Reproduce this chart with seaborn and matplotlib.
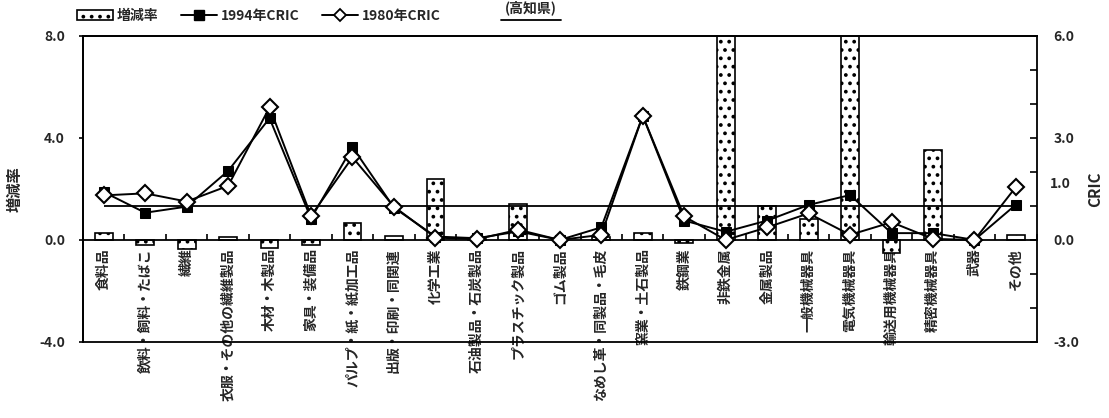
import numpy as np
import pandas as pd
import matplotlib
matplotlib.use("Agg")
import matplotlib.pyplot as plt
import matplotlib.transforms as mtransforms
import seaborn as sns
from matplotlib.patches import Patch
from matplotlib.lines import Line2D
from matplotlib.ticker import FixedLocator, MultipleLocator, FormatStrFormatter

# 業種 (industry categories)
industries = [
    "食料品", "飲料・飼料・たばこ", "繊維", "衣服・その他の繊維製品", "木材・木製品",
    "家具・装備品", "パルプ・紙・紙加工品", "出版・印刷・同関連", "化学工業",
    "石油製品・石炭製品", "プラスチック製品", "ゴム製品", "なめし革・同製品・毛皮",
    "窯業・土石製品", "鉄鋼業", "非鉄金属", "金属製品", "一般機械器具",
    "電気機械器具", "輸送用機械器具", "精密機械器具", "武器", "その他",
]

# 増減率 (left axis); 非鉄金属 and 電気機械器具 run off the top of the chart
rate = [0.26, -0.18, -0.34, 0.13, -0.31, -0.21, 0.65, 0.15, 2.38, 0.05, 1.41, 0.0,
        0.10, 0.27, -0.13, 10.0, 1.33, 0.84, 10.0, -0.50, 3.54, 0.0, 0.20]

# CRIC (right axis)
cric_1994 = [1.41, 0.80, 0.98, 2.03, 3.58, 0.63, 2.73, 0.95, 0.10, 0.05, 0.25, 0.0,
             0.37, 3.65, 0.57, 0.24, 0.57, 1.03, 1.32, 0.20, 0.20, 0.0, 1.04]
cric_1980 = [1.31, 1.37, 1.13, 1.59, 3.90, 0.71, 2.43, 0.98, 0.07, 0.02, 0.30, 0.0,
             0.15, 3.65, 0.69, 0.0, 0.37, 0.78, 0.15, 0.52, 0.03, 0.0, 1.56]
cric_base = 1.0

left_ticks = [-4.0, 0.0, 4.0, 8.0]
right_ticks = [-3.0, 0.0, 3.0, 6.0]

sns.set_theme(style="ticks")
plt.rcParams["font.family"] = ["Noto Sans CJK JP", "DejaVu Sans"]
plt.rcParams["hatch.linewidth"] = 1.5

df = pd.DataFrame({
    "industry": industries,
    "pos": np.arange(len(industries)),
    "rate": rate,
    "c94": cric_1994,
    "c80": cric_1980,
})

fig = plt.figure(figsize=(11.09, 4.18), dpi=100)
ax = fig.add_axes([0.0748, 0.182, 0.860, 0.732])

sns.barplot(data=df, x="industry", y="rate", ax=ax, color="white", saturation=1,
            edgecolor="black", linewidth=1.2, width=0.43, hatch="..", zorder=2)
ax.set_xlim(-0.5, len(industries) - 0.5)
ax.set_ylim(-4, 8)

ax2 = ax.twinx()
ax2.set_ylim(-3, 6)
ax2.hlines(cric_base, df["pos"].iloc[0], df["pos"].iloc[-1], color="black", lw=1.3, zorder=1)
sns.lineplot(data=df, x="pos", y="c94", ax=ax2, color="black", lw=1.4,
             marker="s", markersize=7.5, markeredgecolor="black", markerfacecolor="black",
             legend=False, zorder=3)
sns.lineplot(data=df, x="pos", y="c80", ax=ax2, color="black", lw=1.4,
             marker="D", markersize=8, markeredgecolor="black", markerfacecolor="white",
             markeredgewidth=1.5, legend=False, zorder=4)

# spines: zero line carries the category labels, twin axis draws the frame
for s in list(ax.spines.values()) + list(ax2.spines.values()):
    s.set_color("black")
    s.set_linewidth(1.3)
ax.spines["bottom"].set_position(("data", 0))
ax.spines["right"].set_visible(False)

ax.set_xticks(df["pos"])
ax.set_xticklabels(industries, rotation=90, va="top", ha="center",
                   fontsize=10, fontweight="bold")
ax.xaxis.set_minor_locator(FixedLocator(np.arange(len(industries) + 1) - 0.5))
ax.tick_params(axis="x", which="major", length=0, pad=6)
ax.tick_params(axis="x", which="minor", direction="in", length=4, width=1.2, color="black")
ax.set_xlabel("")

ax.set_yticks(left_ticks)
ax.yaxis.set_major_formatter(FormatStrFormatter("%.1f"))
ax.tick_params(axis="y", direction="out", length=3, width=1.2, color="black",
               labelsize=10, pad=10)
ax.set_ylabel("増減率", fontsize=11, fontweight="bold", labelpad=12)

ax2.set_yticks(right_ticks)
ax2.yaxis.set_major_formatter(FormatStrFormatter("%.1f"))
ax2.yaxis.set_minor_locator(MultipleLocator(1))
ax2.tick_params(axis="y", which="major", direction="in", length=5, width=1.2,
                color="black", labelsize=10, pad=12)
ax2.tick_params(axis="y", which="minor", direction="in", length=5, width=1.2, color="black")
ax2.set_ylabel("CRIC", fontsize=11, fontweight="bold", labelpad=6)
blend = mtransforms.blended_transform_factory(ax2.transAxes, ax2.transData)
ax2.text(1.0135, 1.65, f"{cric_base:.1f}", transform=blend, ha="left", va="center",
         fontsize=10, fontweight="bold")

for lab in ax.get_yticklabels() + ax2.get_yticklabels():
    lab.set_fontweight("bold")

# legend across the top
handles = [
    Patch(facecolor="white", edgecolor="black", hatch="..", linewidth=1.2),
    Line2D([0], [0], color="black", lw=1.4, marker="s", markersize=7,
           markerfacecolor="black"),
    Line2D([0], [0], color="black", lw=1.4, marker="D", markersize=6,
           markerfacecolor="white", markeredgewidth=1.3),
]
fig.legend(handles, ["増減率", "1994年CRIC", "1980年CRIC"], loc="center left",
           bbox_to_anchor=(0.064, 0.962), ncol=3, frameon=False,
           prop={"weight": "bold", "size": 10}, handlelength=2.6, handletextpad=0.3,
           columnspacing=1.6, borderaxespad=0)

fig.text(0.479, 0.999, "(高知県)", ha="center", va="top", fontsize=10, fontweight="bold")
fig.add_artist(Line2D([0.452, 0.506], [0.952, 0.952], color="black", lw=1.3,
                      transform=fig.transFigure))

fig.savefig("out.png", dpi=100)
